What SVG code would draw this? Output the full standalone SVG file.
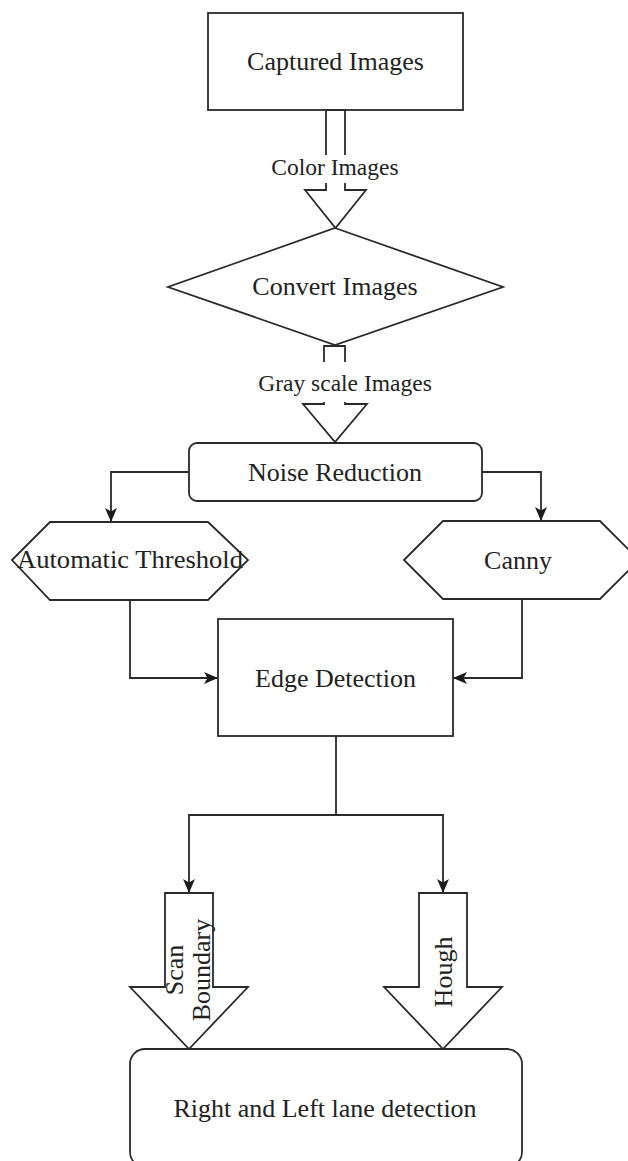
<svg xmlns="http://www.w3.org/2000/svg" width="628" height="1161" viewBox="0 0 628 1161">
<style>
.s{fill:#fff;stroke:#2a2a2a;stroke-width:1.8}
.c{fill:none;stroke:#2a2a2a;stroke-width:1.8}
.t{font-family:"Liberation Serif","Times New Roman",serif;font-size:26px;fill:#222;text-anchor:middle}
.l{font-family:"Liberation Serif","Times New Roman",serif;font-size:23.5px;fill:#222;text-anchor:middle}
</style>
<defs>
<marker id="ah" viewBox="0 0 14 12" refX="13" refY="6" markerWidth="14" markerHeight="12" markerUnits="userSpaceOnUse" orient="auto">
<path d="M0,0 L14,6 L0,12 L3.5,6 z" fill="#1a1a1a"/>
</marker>
</defs>
<rect width="628" height="1161" fill="#fff"/>

<g id="connectors">
<path class="c" d="M189,472 H111 V521" marker-end="url(#ah)"/>
<path class="c" d="M482,472 H541 V520" marker-end="url(#ah)"/>
<path class="c" d="M130,600 V678 H217" marker-end="url(#ah)"/>
<path class="c" d="M522,599 V678 H454" marker-end="url(#ah)"/>
<path class="c" d="M336,736 V815 H189 V892" marker-end="url(#ah)"/>
<path class="c" d="M336,815 H443 V892" marker-end="url(#ah)"/>
</g>

<g id="captured">
<rect class="s" x="208" y="13" width="255" height="97"/>
<text class="t" x="335.5" y="70">Captured Images</text>
</g>

<g id="arrow-color">
<path class="s" d="M326,110 V190 H305 L335.5,228 L366,190 H345 V110 Z"/>
<rect x="268" y="155" width="135" height="28" fill="#fff"/>
<text class="l" x="335" y="175">Color Images</text>
</g>

<g id="convert">
<polygon class="s" points="335,228 503,287 335,345 168,287"/>
<text class="t" x="335" y="295">Convert Images</text>
</g>

<g id="arrow-gray">
<path class="s" d="M324,346 V404 H303 L335,442 L367,404 H345 V346 Z"/>
<rect x="256" y="362" width="178" height="40" fill="#fff"/>
<text class="l" x="345" y="391">Gray scale Images</text>
</g>

<g id="noise">
<rect class="s" x="189" y="443" width="293" height="58" rx="8" ry="8"/>
<text class="t" x="335" y="481">Noise Reduction</text>
</g>

<g id="threshold">
<polygon class="s" points="12,560 50,522 208,522 248,560 208,600 50,600"/>
<text class="t" x="130" y="568" textLength="226" lengthAdjust="spacingAndGlyphs">Automatic Threshold</text>
</g>

<g id="canny">
<polygon class="s" points="404,560 443,521 600,521 639,560 600,599 443,599"/>
<text class="t" x="518" y="569">Canny</text>
</g>

<g id="edge">
<rect class="s" x="218" y="619" width="235" height="117"/>
<text class="t" x="335.5" y="687">Edge Detection</text>
</g>

<g id="scan">
<path class="s" d="M165,893 H213 V987 H248 L189,1049 L130,987 H165 Z"/>
<g transform="translate(189,970) rotate(-90)">
<text class="t" x="0" y="-6">Scan</text>
<text class="t" x="0" y="21">Boundary</text>
</g>
</g>

<g id="hough">
<path class="s" d="M419,893 H467 V987 H502 L443,1049 L384,987 H419 Z"/>
<text class="t" transform="translate(443,972) rotate(-90)" x="0" y="9">Hough</text>
</g>

<g id="lane">
<rect class="s" x="130" y="1049" width="392" height="118" rx="15" ry="15"/>
<text class="t" x="325" y="1117">Right and Left lane detection</text>
</g>
</svg>
